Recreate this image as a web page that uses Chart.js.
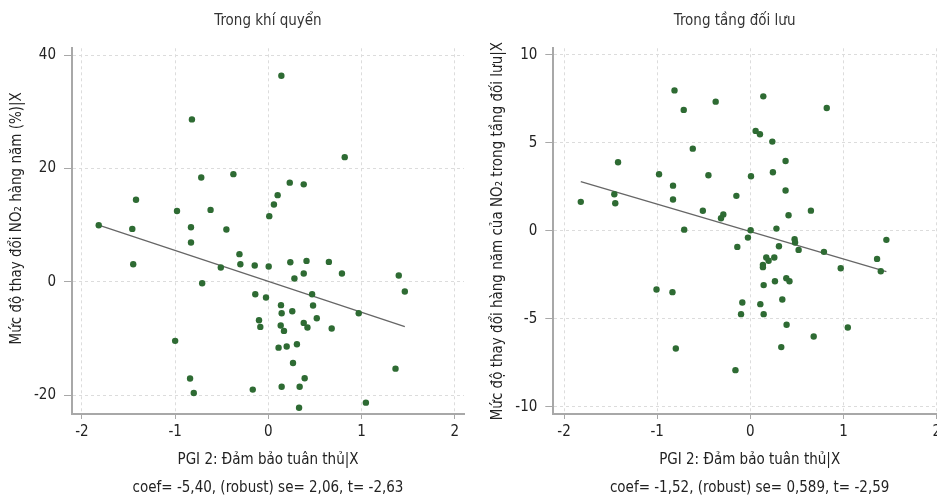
<!DOCTYPE html>
<html>
<head>
<meta charset="utf-8">
<script src="https://cdn.jsdelivr.net/npm/chart.js@4"></script>
<style>
  html, body { margin: 0; padding: 0; background: #fff; overflow: hidden; width: 937px; height: 498px; }
  .panel { position: absolute; top: 0; height: 498px; width: 470px; }
  #leftPanel { left: 0; }
  #rightPanel { left: 480px; }
</style>
</head>
<body>
<div class="panel" id="leftPanel"><canvas id="leftChart"></canvas></div>
<div class="panel" id="rightPanel"><canvas id="rightChart"></canvas></div>
<script>
// Tick labels
const xTicks = [-2, -1, 0, 1, 2];
const leftYTicks = [-20, 0, 20, 40];
const rightYTicks = [-10, -5, 0, 5, 10];

// Left panel: annual NO2 change in the atmosphere (%) vs PGI 2
const leftX = [0.14, -0.82, 0.82, -0.72, -0.375, 0.23, 0.38, -1.42, 0.10, 0.06, -0.98, -0.62, 0.01,
    -1.82, -1.46, -0.83, -0.45, -0.83, -0.31, -1.45, -0.30, -0.51, -0.146, 0.004, 0.236, 0.41, 0.65,
    0.38, 0.79, 1.40, 0.28, -0.71, 1.465, -0.14, 0.47, -0.025, 0.136, 0.48, 0.143, 0.257, 0.97, -0.10,
    0.52, -0.086, 0.133, 0.38, 0.42, 0.168, 0.68, -1.0, 0.11, 0.197, 0.307, 0.265, 1.365, -0.84, 0.39,
    -0.167, 0.143, 0.336, -0.80, 1.047, 0.33];
const leftY = [36.35, 28.66, 22.0, 18.4, 19.0, 17.5, 17.2, 14.5, 15.3, 13.65, 12.5, 12.7, 11.6,
    10.0, 9.35, 9.65, 9.24, 6.95, 4.89, 3.12, 3.12, 2.53, 2.88, 2.71, 3.47, 3.7, 3.53,
    1.47, 1.47, 1.12, 0.59, -0.24, -1.7, -2.17, -2.17, -2.76, -4.1, -4.17, -5.53, -5.17, -5.53, -6.76,
    -6.4, -7.94, -7.7, -7.23, -8.05, -8.64, -8.23, -10.4, -11.6, -11.4, -11.0, -14.3, -15.3, -17.05, -17.0,
    -19.0, -18.5, -18.5, -19.6, -21.3, -22.2];
const leftFitX = [-1.82, 1.465];
const leftFitY = [10.0, -7.9];

// Right panel: annual NO2 change in the troposphere vs PGI 2
const rightX = [-0.814, -0.372, 0.139, 0.82, -0.715, 0.057, 0.103, 0.236, -0.618, -1.42, 0.378, -0.98,
    -0.45, 0.007, 0.242, -0.83, 0.378, -1.46, -1.82, -1.45, -0.83, -0.15, -0.51, -0.29, -0.315, 0.41,
    0.65, -0.71, 0.003, 0.28, -0.026, 0.475, 1.46, 0.48, -0.14, 0.307, 0.518, 0.79, 0.171, 0.257, 0.196,
    0.135, 0.135, 1.36, 0.97, 1.40, 0.386, 0.42, 0.264, 0.143, -1.007, -0.836, 0.343, -0.086, 0.107,
    -0.10, 0.143, 0.389, 1.046, 0.68, -0.80, 0.332, -0.16];
const rightY = [7.98, 7.34, 7.64, 6.98, 6.87, 5.68, 5.49, 5.07, 4.67, 3.9, 3.97, 3.22,
    3.16, 3.1, 3.33, 2.57, 2.29, 2.08, 1.65, 1.57, 1.78, 1.99, 1.14, 0.93, 0.72, 0.89,
    1.15, 0.07, 0.04, 0.13, -0.38, -0.47, -0.51, -0.66, -0.91, -0.87, -1.08, -1.19, -1.51, -1.51, -1.70,
    -1.93, -2.06, -1.59, -2.12, -2.29, -2.69, -2.86, -2.86, -3.08, -3.33, -3.48, -3.90, -4.07, -4.16,
    -4.73, -4.73, -5.33, -5.49, -6.0, -6.68, -6.60, -7.91];
const rightFitX = [-1.82, 1.46];
const rightFitY = [2.8, -2.31];

const FONT = "'Liberation Sans Narrow', 'DejaVu Sans Condensed', 'Roboto', sans-serif";
const DOT_COLOR = '#2e6b33';
const AXIS_COLOR = '#a8a8a8';
const GRID_COLOR = '#dcdcdc';
const TEXT_COLOR = '#222';

Chart.defaults.font.family = FONT;
Chart.defaults.font.size = 15;
Chart.defaults.color = TEXT_COLOR;

function toPoints(xs, ys) {
    return xs.map((x, i) => ({ x: x, y: ys[i] }));
}

function makePanel(canvasId, cfg) {
    const ctx = document.getElementById(canvasId).getContext('2d');
    return new Chart(ctx, {
        type: 'scatter',
        data: {
            datasets: [{
                data: toPoints(cfg.xs, cfg.ys),
                backgroundColor: DOT_COLOR,
                borderColor: DOT_COLOR,
                borderWidth: 0,
                pointRadius: 3.2
            }, {
                data: toPoints(cfg.fitX, cfg.fitY),
                showLine: true,
                borderColor: '#666',
                borderWidth: 1.3,
                pointRadius: 0,
                fill: false
            }]
        },
        options: {
            responsive: true,
            maintainAspectRatio: false,
            animation: false,
            devicePixelRatio: 1,
            layout: { padding: { left: 0, right: cfg.padRight, top: 0, bottom: 0 } },
            plugins: {
                legend: { display: false },
                tooltip: { enabled: false },
                title: { display: false }
            },
            scales: {
                // top axis only carries the panel title, so it centres over the plot area
                xTop: {
                    type: 'linear',
                    position: 'top',
                    min: cfg.xMin,
                    max: cfg.xMax,
                    afterFit: s => { s.height = 48.3; s.paddingLeft = 0; s.paddingRight = 0; },
                    grid: { display: false, drawTicks: false },
                    border: { display: false },
                    ticks: { display: false },
                    title: {
                        display: true,
                        text: cfg.title,
                        color: '#333',
                        font: { size: 15 },
                        padding: { top: 12, bottom: 0 }
                    }
                },
                x: {
                    type: 'linear',
                    position: 'bottom',
                    min: cfg.xMin,
                    max: cfg.xMax,
                    afterBuildTicks: s => { s.ticks = xTicks.map(v => ({ value: v })); },
                    afterFit: s => { s.height = 84; s.paddingLeft = 0; s.paddingRight = 0; },
                    grid: { color: GRID_COLOR, lineWidth: 1, tickColor: AXIS_COLOR, tickLength: 5 },
                    border: { display: true, color: AXIS_COLOR, width: 2, dash: [3, 3] },
                    ticks: { padding: 4, color: TEXT_COLOR, maxRotation: 0 },
                    title: {
                        display: true,
                        text: cfg.xTitle,
                        color: TEXT_COLOR,
                        font: { size: 15, lineHeight: '27.6px' },
                        padding: { top: 0, bottom: -4 }
                    }
                },
                y: {
                    type: 'linear',
                    min: cfg.yMin,
                    max: cfg.yMax,
                    afterBuildTicks: s => { s.ticks = cfg.yTicks.map(v => ({ value: v })); },
                    afterFit: s => { s.width = cfg.yWidth; s.paddingTop = 0; s.paddingBottom = 0; },
                    grid: { color: GRID_COLOR, lineWidth: 1, tickColor: AXIS_COLOR, tickLength: 8 },
                    border: { display: true, color: AXIS_COLOR, width: 2, dash: [3, 3] },
                    ticks: { padding: 8, color: TEXT_COLOR },
                    title: {
                        display: true,
                        text: cfg.yTitle,
                        color: TEXT_COLOR,
                        font: { size: 15 },
                        padding: { top: cfg.yTitlePad, bottom: 0 }
                    }
                }
            }
        }
    });
}

makePanel('leftChart', {
    title: 'Trong khí quyển',
    xs: leftX, ys: leftY, fitX: leftFitX, fitY: leftFitY,
    xMin: -2.107, xMax: 2.1,
    yMin: -23.3, yMax: 41.2, yTicks: leftYTicks,
    yTitle: '      Mức độ thay đổi NO₂ hàng năm (%)|X',
    xTitle: ['PGI 2: Đảm bảo tuân thủ|X', 'coef= -5,40, (robust) se= 2,06, t= -2,63'],
    yWidth: 72, yTitlePad: 8, padRight: 6
});

makePanel('rightChart', {
    title: 'Trong tầng đối lưu       ',
    xs: rightX, ys: rightY, fitX: rightFitX, fitY: rightFitY,
    xMin: -2.115, xMax: 2.1,
    yMin: -10.4, yMax: 10.37, yTicks: rightYTicks,
    yTitle: 'Mức độ thay đổi hàng năm của NO₂ trong tầng đối lưu|X',
    xTitle: ['PGI 2: Đảm bảo tuân thủ|X', 'coef= -1,52, (robust) se= 0,589, t= -2,59'],
    yWidth: 73.3, yTitlePad: 9.5, padRight: 3.4
});
</script>
</body>
</html>
